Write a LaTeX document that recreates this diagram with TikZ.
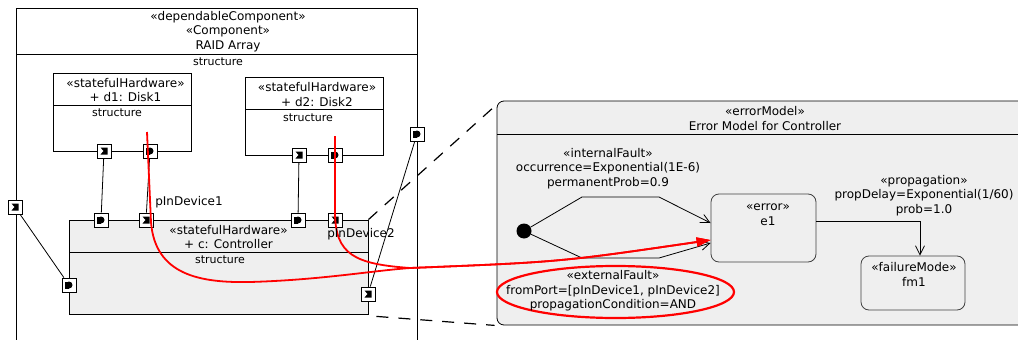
\documentclass[tikz,border=0pt]{standalone}
\usepackage{fontspec}
\setmainfont{DejaVu Sans}
\usetikzlibrary{arrows.meta,fit,shapes.geometric}
\definecolor{panel}{HTML}{EFEFEF}
\definecolor{flowred}{HTML}{FF0000}
\begin{document}
\begin{tikzpicture}[x=1pt,y=-1pt,
  every node/.style={inner sep=0pt, font=\fontsize{12}{14.5}\selectfont},
  lbl/.style={align=center},
  small/.style={font=\fontsize{11}{13}\selectfont},
  frame/.style={draw, line width=0.8pt},
  state/.style={draw=black!75, line width=0.8pt, rounded corners=8pt, fill=panel},
  port/.style={draw, fill=white, minimum size=14pt, line width=0.8pt},
  inport/.style={port, path picture={\fill[black] ([shift={(-3.5pt,-3.5pt)}]path picture bounding box.center) -- ++(7pt,0pt) -- ++(0pt,7pt) -- ++(-7pt,0pt) -- ++(3pt,-3.5pt) -- cycle;}},
  outport/.style={port, path picture={\fill[black] ([shift={(-4pt,-3.5pt)}]path picture bounding box.center) rectangle ++(4pt,7pt); \fill[black] (path picture bounding box.center) circle[radius=3.5pt];}},
  wire/.style={draw, line width=0.8pt},
  trans/.style={draw, line width=0.8pt, -{Straight Barb[length=9pt,width=9pt]}},
  link/.style={draw, line width=1.2pt, dash pattern=on 12pt off 10pt},
  flow/.style={draw=flowred, line width=1.8pt, -{Triangle[length=14pt,width=9pt]}}
]
\useasboundingbox (0,0) rectangle (1018,340);

% component frame
\node[frame, fit={(16,8) (417,360)}] (raid) {};
\draw[line width=0.8pt] (16,54) -- (417,54);
\node[lbl] (raidtitle) at (228,31.5) {«dependableComponent»\\«Component»\\RAID Array};
\node[small] (raidstruct) at (218,62) {structure};

% disks
\node[frame, fit={(53,73) (191,151)}] (d1) {};
\draw[line width=0.8pt] (53,105) -- (191,105);
\node[lbl] (d1title) at (125.5,90) {«statefulHardware»\\+ d1: Disk1};
\node[small] (d1struct) at (117,113) {structure};

\node[frame, fit={(245,77) (383,155)}] (d2) {};
\draw[line width=0.8pt] (245,109) -- (383,109);
\node[lbl] (d2title) at (317,94.5) {«statefulHardware»\\+ d2: Disk2};
\node[small] (d2struct) at (308,118) {structure};

% controller
\node[frame, fill=panel, fit={(69,220) (368,314)}] (ctrl) {};
\draw[line width=0.8pt] (69,252) -- (368,252);
\node[lbl] (ctrltitle) at (228.5,237) {«statefulHardware»\\+ c: Controller};
\node[small] (ctrlstruct) at (220,260) {structure};

% error model
\node[frame, fill=panel, rounded corners=7pt, fit={(497,101) (1035,325)}] (em) {};
\draw[line width=0.8pt] (497,134) -- (1035,134);
\node[lbl] (emtitle) at (765,118.5) {«errorModel»\\Error Model for Controller};

\node[state, fit={(711,194) (816,262)}] (e1) {};
\node[lbl] (e1text) at (768,214.5) {«error»\\e1};
\node[state, fit={(861,256) (965,310)}] (fm1) {};
\node[lbl] (fm1text) at (914,274.5) {«failureMode»\\fm1};
\node[circle, fill=black, minimum size=15pt] (init) at (524,231) {};

\node[lbl] (intlbl) at (608,168.5) {«internalFault»\\occurrence=Exponential(1E-6)\\permanentProb=0.9};
\node[lbl] (proplbl) at (924,195.5) {«propagation»\\propDelay=Exponential(1/60)\\prob=1.0};
\node[ellipse, draw=flowred, line width=2.2pt, minimum width=237pt, minimum height=52pt] (ext) at (615.5,292) {};
\node[lbl] (extlbl) at (613,291) {«externalFault»\\fromPort=[pInDevice1, pInDevice2]\\propagationCondition=AND};

% transitions inside the error model
\draw[trans] (init) -- (582,197) -- (659,197) -- ([yshift=5pt]e1.west);
\draw[trans] (init) -- (582,258) -- (659,258) -- ([yshift=-15pt]e1.west);
\draw[trans] ([yshift=7pt]e1.east) -| ([xshift=7pt]fm1.north);

% ports
\node[inport] (rl) at (15,207) {};
\node[outport] (rr) at (417,134) {};
\node[inport] (d1a) at (104,151) {};
\node[outport] (d1b) at (150,151) {};
\node[inport] (d2a) at (299,155) {};
\node[outport] (d2b) at (335,155) {};
\node[outport] (ca) at (101,220) {};
\node[inport] (cb) at (146,220) {};
\node[outport] (cc) at (298,220) {};
\node[inport] (cd) at (335,220) {};
\node[outport] (cl) at (69,285) {};
\node[inport] (cr) at (368,294) {};

% connectors between ports
\draw[wire] (rl) -- (cl);
\draw[wire] (rr) -- (cr);
\draw[wire] (d1a) -- (ca);
\draw[wire] (d1b) -- (cb);
\draw[wire] (d2a) -- (cc);
\draw[wire] (d2b) -- (cd);

% links from the controller part to its error model
\draw[link] (ctrl.north east) -- ([yshift=-4pt]em.north west);
\draw[link] ([xshift=8pt,yshift=-2pt]ctrl.south east) -- ([xshift=-2pt]em.south west);

% fault propagation paths
\coordinate (r1) at (147,132);
\coordinate (r2) at (335,136);
\draw[flow] (r1) -- (151,222) .. controls (155,275) and (200,283) .. (250,282)
  .. controls (320,280) and (370,271) .. (410,268)
  .. controls (560,262) .. ([yshift=-12pt]e1.west);
\draw[flow] (r2) -- (335,212) .. controls (335,255) and (355,264) .. (410,268)
  .. controls (560,262) .. ([yshift=-12pt]e1.west);

\node (p1lbl) at (189,202) {pInDevice1};
\node (p2lbl) at (361,234) {pInDevice2};
\end{tikzpicture}
\end{document}
